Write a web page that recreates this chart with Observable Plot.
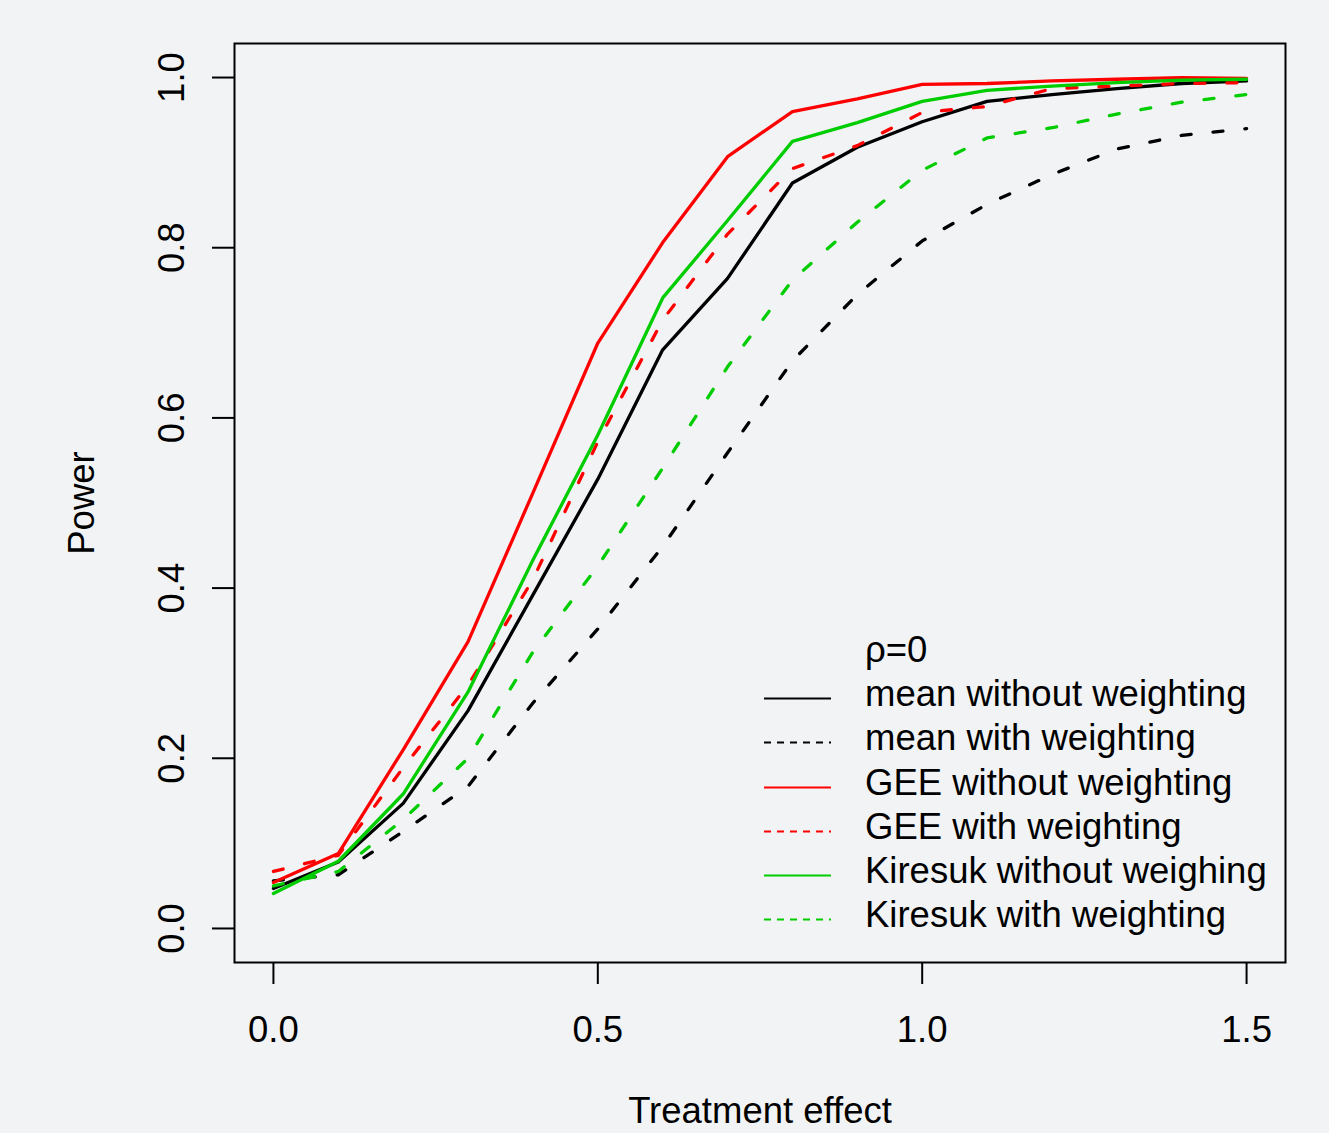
<!DOCTYPE html>
<html><head><meta charset="utf-8">
<script src="https://cdn.jsdelivr.net/npm/d3@7"></script>
<script src="https://cdn.jsdelivr.net/npm/@observablehq/plot@0.6"></script>
<style>
html,body{margin:0;padding:0;background:#f2f3f5;}
#wrap{position:relative;width:1329px;height:1133px;overflow:hidden;font-family:"Liberation Sans",Arial,sans-serif;}
#legend{position:absolute;left:764px;top:628px;}
.row{display:flex;align-items:flex-start;height:44.2px;line-height:44.2px;font-size:36.5px;color:#000;white-space:nowrap;}
.row svg{width:67px;height:44.2px;margin-right:34px;flex:none;}
</style></head><body><div id="wrap"></div>
<script>
// Treatment effect values (x)
const effect = [0,0.1,0.2,0.3,0.4,0.5,0.6,0.7,0.8,0.9,1.0,1.1,1.2,1.3,1.4,1.5];
// Power per method
const meanNoW = [0.047,0.078,0.147,0.256,0.392,0.528,0.680,0.764,0.876,0.918,0.948,0.972,0.980,0.987,0.993,0.996];
const meanW   = [0.056,0.063,0.114,0.167,0.265,0.352,0.449,0.559,0.667,0.745,0.808,0.851,0.886,0.916,0.932,0.940];
const geeNoW  = [0.054,0.088,0.210,0.337,0.512,0.688,0.806,0.907,0.960,0.975,0.992,0.993,0.996,0.998,1.000,0.999];
const geeW    = [0.067,0.086,0.189,0.286,0.410,0.572,0.715,0.816,0.893,0.920,0.959,0.966,0.987,0.990,0.993,0.994];
const kirNoW  = [0.041,0.079,0.158,0.278,0.433,0.580,0.741,0.832,0.925,0.947,0.972,0.985,0.990,0.994,0.997,0.998];
const kirW    = [0.050,0.067,0.128,0.200,0.325,0.426,0.541,0.660,0.762,0.830,0.891,0.929,0.941,0.957,0.971,0.980];
// Labels
const seriesNames = ["mean without weighting","mean with weighting","GEE without weighting","GEE with weighting","Kiresuk without weighing","Kiresuk with weighting"];
const seriesColors = ["#000000","#000000","#ff0000","#ff0000","#00cd00","#00cd00"];
const seriesDashed = [false,true,false,true,false,true];
const legendTitle = "ρ=0";
const xTicks = [0,0.5,1.0,1.5];
const yTicks = [0,0.2,0.4,0.6,0.8,1.0];
const xTitle = "Treatment effect";
const yTitle = "Power";

const seriesValues = [meanNoW, meanW, geeNoW, geeW, kirNoW, kirW];

const lineMarks = seriesValues.map((vals, s) =>
  Plot.line(vals.map((v, i) => ({x: effect[i], y: v})), {
    x: "x", y: "y",
    stroke: seriesColors[s],
    strokeWidth: 3.3,
    strokeDasharray: seriesDashed[s] ? "10 22" : null
  })
);

const FS = 36.5;
const chart = Plot.plot({
  width: 1329, height: 1133,
  marginLeft: 234, marginRight: 44, marginTop: 43, marginBottom: 171,
  style: {background: "transparent", fontFamily: "'Liberation Sans', Arial, sans-serif", fontSize: FS + "px", color: "#000"},
  x: {domain: [-0.06, 1.56]},
  y: {domain: [-0.04, 1.04]},
  marks: [
    ...lineMarks,
    Plot.frame({stroke: "#000", strokeWidth: 2}),
    Plot.axisX({ticks: xTicks, tickSize: 22, tickPadding: 32, tickFormat: d => d.toFixed(1), strokeWidth: 2, label: null, fontSize: FS}),
    Plot.axisY({ticks: yTicks, tickSize: 22, tickPadding: 29, tickRotate: -90, tickFormat: d => d.toFixed(1), strokeWidth: 2, label: null, fontSize: FS}),
    Plot.text([xTitle], {frameAnchor: "bottom", dy: 160, lineAnchor: "bottom", textAnchor: "middle", fontSize: FS}),
    Plot.text([yTitle], {frameAnchor: "left", dx: -141, rotate: -90, lineAnchor: "bottom", textAnchor: "middle", fontSize: FS})
  ]
});
const wrap = document.getElementById("wrap");
wrap.appendChild(chart);

// Legend (inside plot region, no box)
const legend = document.createElement("div");
legend.id = "legend";
const titleRow = document.createElement("div");
titleRow.className = "row";
titleRow.innerHTML = `<svg></svg><span>${legendTitle}</span>`;
legend.appendChild(titleRow);
seriesNames.forEach((name, s) => {
  const row = document.createElement("div");
  row.className = "row";
  const dash = seriesDashed[s] ? 'stroke-dasharray="7 6"' : "";
  row.innerHTML = `<svg viewBox="0 0 67 44.2"><line x1="0" x2="67" y1="26.5" y2="26.5" stroke="${seriesColors[s]}" stroke-width="2" ${dash}/></svg><span>${name}</span>`;
  legend.appendChild(row);
});
wrap.appendChild(legend);
</script>
</body></html>
